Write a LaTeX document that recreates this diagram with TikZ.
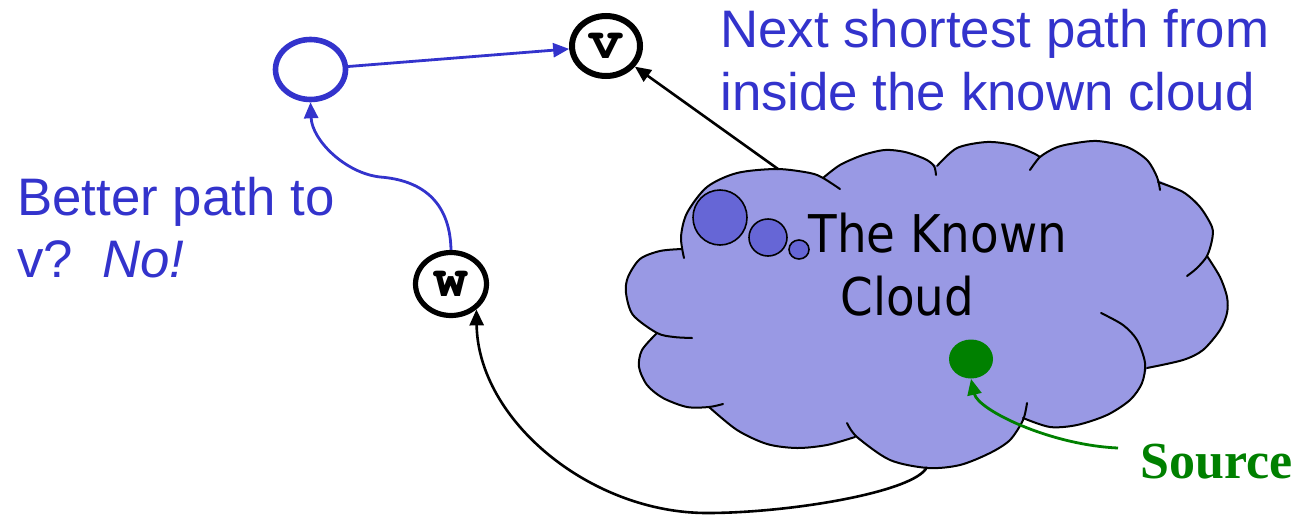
\documentclass[tikz,border=0pt]{standalone}
\usepackage{fontspec}
\setmainfont{Liberation Sans}
\newfontfamily\cloudfont{DejaVu Sans}[FakeStretch=0.9]
\newfontfamily\codefont{texgyrecursor}[Extension=.otf, UprightFont=*-regular, BoldFont=*-bold]
\newfontfamily\srcfont{Liberation Serif}
\usetikzlibrary{arrows.meta,shapes.geometric}
\definecolor{tblue}{RGB}{51,51,204}
\definecolor{cloudfill}{RGB}{153,153,228}
\definecolor{puff}{RGB}{102,102,214}
\definecolor{tgreen}{RGB}{0,128,0}
\begin{document}
\begin{tikzpicture}[x=0.5pt,y=-0.5pt,
  vertex/.style={ellipse, draw=black, line width=3pt, inner sep=0pt,
    font=\codefont\bfseries\fontsize{29}{29}\selectfont},
  bluering/.style={ellipse, draw=tblue, line width=2.8pt, inner sep=0pt},
  puffst/.style={ellipse, draw=black, fill=puff, line width=0.8pt, inner sep=0pt},
  cloudedge/.style={draw=black, line width=1pt, line cap=round},
  bluetext/.style={inner sep=0pt, anchor=base west, text=tblue,
    font=\fontsize{26.4}{30}\selectfont},
  cloudtext/.style={inner sep=0pt, anchor=base west, text=black,
    font=\cloudfont\fontsize{26}{30}\selectfont},
  tip/.style={-{Triangle[length=8pt,width=7pt]}},
  bluearrow/.style={tip, draw=tblue, line width=1.4pt},
  blackarrow/.style={tip, draw=black, line width=1.3pt},
  greenarrow/.style={tip, draw=tgreen, line width=1.4pt},
]
\useasboundingbox (0,0) rectangle (1299,514);

% cloud fill
\fill[cloudfill]
 plot[smooth] coordinates {(657,333) (633,315) (626,293) (628,277) (640,259) (660,251) (682,249)}
 -- plot[smooth] coordinates {(682,249) (681,237) (687,213) (707,187) (737,173) (777,169) (810,173) (823,178)}
 -- plot[smooth] coordinates {(823,178) (840,165) (863,155) (885,150) (905,152) (925,159) (937,166)}
 -- plot[smooth] coordinates {(937,166) (957,148) (987,142) (1013,145) (1033,153) (1040,157)}
 -- plot[smooth] coordinates {(1040,157) (1055,148) (1070,144) (1097,141) (1127,147) (1147,160) (1158,180)}
 -- plot[smooth] coordinates {(1158,180) (1183,192) (1200,207) (1212,227) (1212,240) (1207,256)}
 -- plot[smooth] coordinates {(1207,256) (1220,277) (1227,297) (1227,313) (1220,330) (1203,350) (1183,360) (1147,368)}
 -- plot[smooth] coordinates {(1147,368) (1142,383) (1130,400) (1107,415) (1077,425) (1050,427) (1023,418)}
 -- plot[smooth] coordinates {(1023,418) (1010,440) (990,453) (960,465) (928,468) (890,460) (855,437)}
 -- plot[smooth] coordinates {(855,437) (827,445) (797,448) (767,444) (737,430) (709,407)}
 -- plot[smooth] coordinates {(709,407) (687,407) (663,398) (647,385) (639,367) (642,350) (657,333)}
 -- cycle;

% cloud lobes with their inner ends
\draw[cloudedge] plot[smooth] coordinates {(692,338) (674,337) (657,333) (633,315) (626,293) (628,277) (640,259) (660,251) (682,249)};
\draw[cloudedge] plot[smooth] coordinates {(684,258) (681,237) (687,213) (707,187) (737,173) (777,169) (810,173) (823,178) (840,189)};
\draw[cloudedge] plot[smooth] coordinates {(823,178) (840,165) (863,155) (885,150) (905,152) (925,159) (934,166) (936,175)};
\draw[cloudedge] plot[smooth] coordinates {(937,166) (957,148) (987,142) (1013,145) (1033,153) (1040,157)};
\draw[cloudedge] plot[smooth] coordinates {(1030,170) (1040,157) (1055,148) (1070,144) (1097,141) (1127,147) (1147,160) (1157,177) (1160,190)};
\draw[cloudedge] plot[smooth] coordinates {(1158,182) (1183,192) (1200,207) (1212,227) (1212,240) (1207,256) (1197,268) (1187,276)};
\draw[cloudedge] plot[smooth] coordinates {(1207,256) (1220,277) (1227,297) (1227,313) (1220,330) (1203,350) (1183,360) (1147,368)};
\draw[cloudedge] plot[smooth] coordinates {(1101,313) (1123,325) (1137,340) (1145,363) (1142,383) (1130,400) (1107,415) (1077,425) (1050,427) (1023,418)};
\draw[cloudedge] plot[smooth] coordinates {(1027,403) (1023,420) (1010,440) (990,453) (960,465) (928,468) (890,460) (857,437) (847,423)};
\draw[cloudedge] plot[smooth] coordinates {(855,437) (827,445) (797,448) (767,444) (737,430) (709,407)};
\draw[cloudedge] plot[smooth] coordinates {(723,404) (709,407) (687,407) (663,398) (647,385) (639,367) (642,350) (657,333)};

% thought puffs
\node[puffst, minimum width=27pt, minimum height=27.5pt] (p1) at (720,217.5) {};
\node[puffst, minimum width=19pt, minimum height=18.5pt] (p2) at (768,237.5) {};
\node[puffst, minimum width=10pt, minimum height=9.5pt] (p3) at (799,249.5) {};

% cloud text
\node[cloudtext] (ck1) at (808,252) {The Known};
\node[cloudtext] (ck2) at (840,315) {Cloud};

% source dot
\node[ellipse, fill=tgreen, inner sep=0pt, minimum width=22pt, minimum height=19.5pt] (s) at (971,359) {};

% graph nodes
\node[vertex, minimum width=34pt, minimum height=30pt] (v) at (606,46) {v};
\node[vertex, line width=2.6pt, minimum width=35.5pt, minimum height=31.5pt] (w) at (451,284) {w};
\node[bluering, minimum width=35pt, minimum height=30pt] (b) at (310.5,69.5) {};

% texts
\node[bluetext] (nx1) at (720,47) {Next shortest path from};
\node[bluetext] (nx2) at (720,110) {inside the known cloud};
\node[bluetext] (bp1) at (17,215) {Better path to};
\node[bluetext] (bp2) at (17,277) {v?\ \ \textit{No!}};
\node[inner sep=0pt, anchor=base west, text=tgreen,
  font=\srcfont\bfseries\fontsize{26}{30}\selectfont] (src) at (1140,478) {Source};

% connectors
\coordinate (ctop) at (778,169);
\coordinate (cbot) at (927,467);
\coordinate (gs) at (1118,448);
\draw[bluearrow] (b) -- (v);
\draw[blackarrow] (ctop) -- (v);
\draw[bluearrow] (w.north) .. controls (450,200) and (420,180) .. (380,177)
  .. controls (345,173) and (312,140) .. (b.south);
\draw[blackarrow] (cbot) .. controls (915,492) and (790,513) .. (707,513)
  .. controls (590,513) and (478,420) .. (w.-45);
\draw[greenarrow] (gs) .. controls (1050,445) and (978,410) .. (s.south);
\end{tikzpicture}
\end{document}
